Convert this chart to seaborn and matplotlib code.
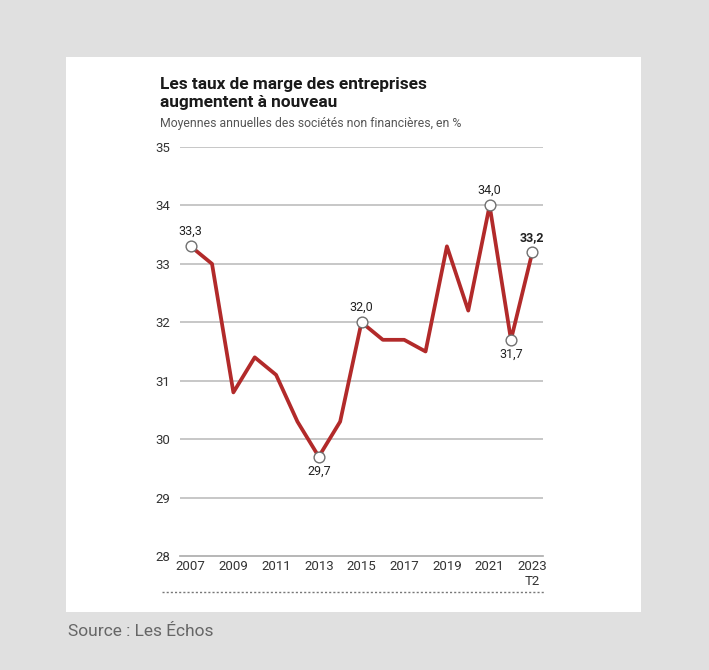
import matplotlib
matplotlib.use("Agg")
import matplotlib.pyplot as plt
import seaborn as sns
import pandas as pd
from matplotlib.patches import Rectangle
from matplotlib.lines import Line2D

years = ["2007", "2008", "2009", "2010", "2011", "2012", "2013", "2014", "2015",
         "2016", "2017", "2018", "2019", "2020", "2021", "2022", "2023"]
values = [33.3, 33.0, 30.8, 31.4, 31.1, 30.3, 29.7, 30.3, 32.0,
          31.7, 31.7, 31.5, 33.3, 32.2, 34.0, 31.7, 33.2]
tick_labels = ["2007", "2009", "2011", "2013", "2015", "2017", "2019", "2021", "2023\nT2"]
y_ticks = [28, 29, 30, 31, 32, 33, 34, 35]
highlight_years = ["2007", "2013", "2015", "2021", "2022", "2023"]
highlight_labels = ["33,3", "29,7", "32,0", "34,0", "31,7", "33,2"]
highlight_pos = ["above", "below", "above", "above", "below", "above"]

sns.set_theme(style="white")
plt.rcParams["font.family"] = ["Roboto", "DejaVu Sans"]

df = pd.DataFrame({"idx": range(len(years)), "year": years, "value": values})

fig = plt.figure(figsize=(7.09, 6.70), dpi=100)
fig.patch.set_facecolor("#e0e0e0")
fig.add_artist(Rectangle((66 / 709, 1 - 612 / 670), (641 - 66) / 709, (612 - 57) / 670,
                         transform=fig.transFigure, facecolor="white", edgecolor="none", zorder=0))

ax = fig.add_axes([180 / 709, (670 - 556) / 670, 363 / 709, 409 / 670])
ax.set_facecolor("none")

sns.lineplot(data=df, x="idx", y="value", ax=ax, color="#b22a2a", linewidth=2.7,
             zorder=3, clip_on=False)

hl = df[df["year"].isin(highlight_years)]
sns.scatterplot(data=hl, x="idx", y="value", ax=ax, s=60, color="white",
                edgecolor="#707070", linewidth=1.0, zorder=4, clip_on=False)

for yr, lab, pos in zip(highlight_years, highlight_labels, highlight_pos):
    i = years.index(yr)
    v = values[i]
    off = 6 if pos == "above" else -6
    va = "bottom" if pos == "above" else "top"
    ax.annotate(lab, (i, v), xytext=(0, off), textcoords="offset points",
                ha="center", va=va, fontsize=9, color="#222222",
                fontweight="bold" if yr == "2023" else "normal", zorder=5)

ax.set_xlim(-0.5, len(years) - 0.5)
ax.set_ylim(28, 35)

for yv in y_ticks[1:]:
    ax.axhline(yv, color="#bdbdbd", linewidth=1.2, zorder=1)

for s in ["top", "right", "left"]:
    ax.spines[s].set_visible(False)
ax.spines["bottom"].set_color("#aaaaaa")
ax.spines["bottom"].set_linewidth(1.2)

ax.set_yticks(y_ticks)
ax.set_yticklabels([str(t) for t in y_ticks])
ax.tick_params(axis="y", length=0, pad=7, labelsize=9.5, labelcolor="#333333")

major_pos = [years.index(t.split("\n")[0]) for t in tick_labels]
ax.set_xticks(major_pos)
ax.set_xticklabels(tick_labels)
ax.tick_params(axis="x", which="major", length=0, pad=3, labelsize=9.5, labelcolor="#333333")
ax.set_xticks([i - 0.5 for i in range(len(years) + 1)], minor=True)
ax.tick_params(axis="x", which="minor", direction="in", length=6, width=1.1, color="#aaaaaa")
ax.set_xlabel("")
ax.set_ylabel("")

fig.text(160 / 709, 1 - 85 / 670, "Les taux de marge des entreprises", fontsize=12.4,
         fontweight="bold", color="#1a1a1a", va="center", ha="left")
fig.text(160 / 709, 1 - 102 / 670, "augmentent à nouveau", fontsize=12.4,
         fontweight="bold", color="#1a1a1a", va="center", ha="left")
fig.text(160 / 709, 1 - 124 / 670, "Moyennes annuelles des sociétés non financières, en %",
         fontsize=8.8, color="#555555", va="center", ha="left")

fig.add_artist(Line2D([162 / 709, 545 / 709], [1 - 592 / 670, 1 - 592 / 670],
                      transform=fig.transFigure, color="#777777", linewidth=1,
                      linestyle=(0, (1.5, 1.5))))

fig.text(68 / 709, 1 - 632 / 670, "Source : Les Échos", fontsize=12.5, color="#666666",
         va="center", ha="left")

fig.savefig("out.png", dpi=100, facecolor=fig.get_facecolor())
